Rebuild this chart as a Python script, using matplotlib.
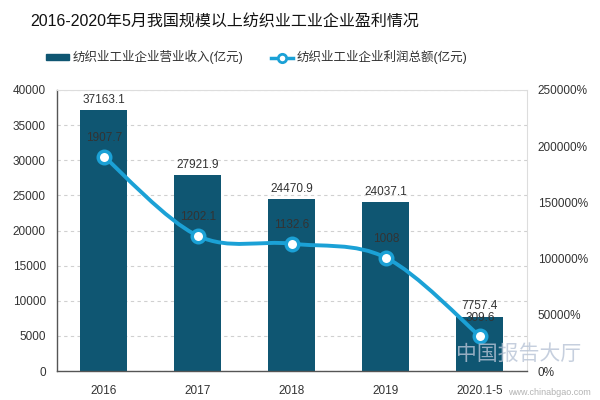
import matplotlib
matplotlib.use('Agg')

import matplotlib.pyplot as plt
import numpy as np
from matplotlib.path import Path
from matplotlib.patches import PathPatch, Patch
from matplotlib.lines import Line2D
from matplotlib.ticker import FuncFormatter

plt.rcParams['font.family'] = ['Liberation Sans', 'Noto Sans CJK SC', 'DejaVu Sans']

years = ['2016', '2017', '2018', '2019', '2020.1-5']
revenue = [37163.1, 27921.9, 24470.9, 24037.1, 7757.4]
profit = [1907.7, 1202.1, 1132.6, 1008, 309.6]
profit_labels = ['1907.7', '1202.1', '1132.6', '1008', '309.6']

bar_color = '#0f5672'
line_color = '#1ba1d6'
text_color = '#333333'

fig = plt.figure(figsize=(6, 4), dpi=100)
ax = fig.add_axes([0.095, 0.0725, 0.783, 0.7025])
ax2 = ax.twinx()

x = np.arange(len(years))
ax.bar(x, revenue, 0.5, color=bar_color, zorder=2)
for xi, v in zip(x, revenue):
    ax.annotate(f'{v}', (xi, v), xytext=(0, 3), textcoords='offset points',
                ha='center', va='bottom', fontsize=8.5, color=text_color)

ax.set_xlim(-0.5, len(years) - 0.5)
ax.set_ylim(0, 40000)
ax.set_yticks(np.arange(0, 40001, 5000))
ax.set_xticks(x)
ax.set_xticklabels(years)
ax.grid(axis='y', linestyle=(0, (3, 3)), color='#d0d0d0', linewidth=0.8)
ax.set_axisbelow(True)
ax.tick_params(length=0, labelsize=8.5, colors=text_color, pad=8)
ax.tick_params(axis='x', pad=10)
for s in ['left', 'bottom']:
    ax.spines[s].set_color('#555555')
    ax.spines[s].set_linewidth(1.0)
for s in ['top', 'right']:
    ax.spines[s].set_color('#dddddd')

# smoothed line (bezier segments through the data points)
px = x.astype(float)
py = np.array(profit, dtype=float)
verts = [(px[0], py[0])]
codes = [Path.MOVETO]
n = len(px)
for i in range(n - 1):
    p0 = (px[max(i - 1, 0)], py[max(i - 1, 0)])
    p1 = (px[i], py[i])
    p2 = (px[i + 1], py[i + 1])
    p3 = (px[min(i + 2, n - 1)], py[min(i + 2, n - 1)])
    c1 = (p1[0] + (p2[0] - p0[0]) / 6, p1[1] + (p2[1] - p0[1]) / 6)
    c2 = (p2[0] - (p3[0] - p1[0]) / 6, p2[1] - (p3[1] - p1[1]) / 6)
    verts += [c1, c2, p2]
    codes += [Path.CURVE4] * 3
ax2.add_patch(PathPatch(Path(verts, codes), facecolor='none', edgecolor=line_color,
                        linewidth=2.8, zorder=3))
ax2.plot(px, py, linestyle='none', marker='o', markersize=9, markerfacecolor='white',
         markeredgecolor=line_color, markeredgewidth=2.5, zorder=4)
for xi, v, lab in zip(px, py, profit_labels):
    ax2.annotate(lab, (xi, v), xytext=(0, 9), textcoords='offset points',
                 ha='center', va='bottom', fontsize=8.5, color=text_color, zorder=5)

ax2.set_ylim(0, 2500)
ax2.set_yticks(np.arange(0, 2501, 500))
ax2.yaxis.set_major_formatter(FuncFormatter(lambda v, p: f'{v * 100:.0f}%'))
ax2.tick_params(length=0, labelsize=8.5, colors=text_color, pad=8)
for s in ax2.spines.values():
    s.set_visible(False)

# legend
handles = [Patch(color=bar_color),
           Line2D([0], [0], color=line_color, linewidth=2.5, marker='o', markersize=6,
                  markerfacecolor='white', markeredgecolor=line_color, markeredgewidth=2)]
fig.legend(handles, ['纺织业工业企业营业收入(亿元)', '纺织业工业企业利润总额(亿元)'],
           loc='center left', bbox_to_anchor=(0.058, 0.857), ncol=2, frameon=False,
           fontsize=9, handlelength=1.8, handleheight=0.35, columnspacing=2.2,
           handletextpad=0.3, labelcolor='#333333')

fig.text(0.05, 0.945, '2016-2020年5月我国规模以上纺织业工业企业盈利情况',
         fontsize=11.5, color='#111111', va='center')

# watermark
fig.text(0.76, 0.1, '中国报告大厅', fontsize=15, color='#b8c4d6', alpha=0.8, zorder=10)
fig.text(0.985, 0.012, 'www.chinabgao.com', fontsize=6.5, color='#a0a0a0', alpha=0.8,
         ha='right', zorder=10)

fig.savefig('out.png', dpi=100)
